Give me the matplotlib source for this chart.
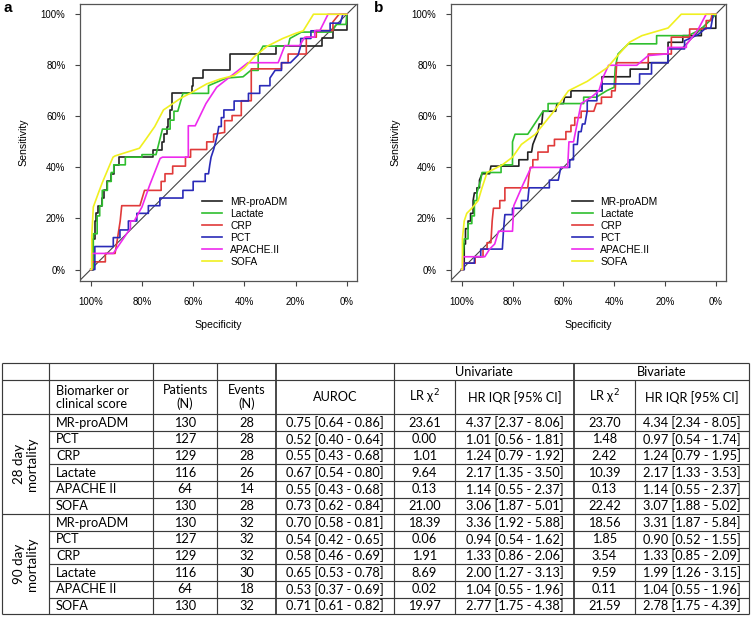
import numpy as np
import matplotlib
matplotlib.use("Agg")
import matplotlib.pyplot as plt

# ROC curves: (specificity, sensitivity) vertices
# panel a: 28 day mortality
a_mrproadm = [(1, 0), (0.99, 0), (0.99, 0.12), (0.985, 0.12), (0.985, 0.19), (0.978, 0.19), (0.978, 0.22),
              (0.97, 0.22), (0.97, 0.25), (0.955, 0.25), (0.955, 0.28), (0.948, 0.28), (0.948, 0.31),
              (0.935, 0.31), (0.935, 0.345), (0.92, 0.345), (0.92, 0.375), (0.91, 0.375), (0.91, 0.41),
              (0.89, 0.41), (0.89, 0.44), (0.755, 0.44), (0.755, 0.47), (0.72, 0.47), (0.72, 0.50),
              (0.712, 0.50), (0.712, 0.53), (0.703, 0.53), (0.703, 0.56), (0.697, 0.56), (0.697, 0.59),
              (0.69, 0.59), (0.69, 0.625), (0.684, 0.625), (0.684, 0.69), (0.605, 0.69), (0.605, 0.72),
              (0.599, 0.72), (0.599, 0.75), (0.5625, 0.75), (0.5625, 0.78), (0.457, 0.78), (0.457, 0.845),
              (0.275, 0.845), (0.275, 0.875), (0.098, 0.875), (0.098, 0.905), (0.052, 0.905), (0.052, 0.94),
              (0, 0.94), (0, 1.0)]
a_lactate = [(1, 0), (0.99, 0), (0.99, 0.14), (0.975, 0.14), (0.975, 0.21), (0.965, 0.21), (0.965, 0.25),
             (0.955, 0.25), (0.955, 0.31), (0.935, 0.31), (0.935, 0.345), (0.92, 0.345), (0.92, 0.38),
             (0.91, 0.38), (0.91, 0.41), (0.865, 0.41), (0.865, 0.44), (0.80, 0.44), (0.80, 0.45),
             (0.745, 0.45), (0.72, 0.55), (0.69, 0.55), (0.69, 0.585), (0.675, 0.585), (0.675, 0.62),
             (0.66, 0.62), (0.64, 0.69), (0.54, 0.69), (0.54, 0.72), (0.47, 0.75), (0.405, 0.755),
             (0.375, 0.78), (0.346, 0.78), (0.346, 0.84), (0.327, 0.875), (0.229, 0.875), (0.222, 0.905),
             (0.177, 0.93), (0.06, 0.93), (0.04, 0.96), (0.003, 0.96), (0, 1.0)]
a_crp = [(1, 0), (0.995, 0), (0.995, 0.03), (0.943, 0.03), (0.943, 0.063), (0.905, 0.063), (0.895, 0.125),
         (0.885, 0.19), (0.879, 0.25), (0.808, 0.25), (0.79, 0.31), (0.725, 0.31), (0.725, 0.345),
         (0.71, 0.345), (0.71, 0.375), (0.68, 0.375), (0.68, 0.405), (0.63, 0.405), (0.63, 0.44),
         (0.61, 0.44), (0.61, 0.47), (0.547, 0.47), (0.547, 0.50), (0.52, 0.50), (0.52, 0.53),
         (0.477, 0.537), (0.477, 0.583), (0.448, 0.583), (0.448, 0.603), (0.412, 0.603), (0.412, 0.661),
         (0.373, 0.661), (0.373, 0.786), (0.255, 0.786), (0.255, 0.81), (0.229, 0.81), (0.229, 0.844),
         (0.158, 0.844), (0.158, 0.91), (0.119, 0.91), (0.119, 0.936), (0.054, 0.936), (0.054, 0.97),
         (0.03, 1.0), (0, 1.0)]
a_pct = [(1, 0), (0.984, 0), (0.984, 0.09), (0.912, 0.09), (0.912, 0.125), (0.886, 0.125), (0.886, 0.155),
         (0.853, 0.155), (0.853, 0.19), (0.82, 0.19), (0.82, 0.22), (0.775, 0.22), (0.775, 0.25),
         (0.73, 0.25), (0.73, 0.28), (0.64, 0.28), (0.64, 0.31), (0.60, 0.31), (0.60, 0.345),
         (0.553, 0.345), (0.553, 0.375), (0.54, 0.375), (0.535, 0.41), (0.53, 0.44), (0.52, 0.47),
         (0.512, 0.50), (0.505, 0.53), (0.50, 0.56), (0.49, 0.56), (0.49, 0.595), (0.48, 0.595),
         (0.48, 0.625), (0.44, 0.625), (0.44, 0.66), (0.384, 0.66), (0.384, 0.69), (0.34, 0.69),
         (0.34, 0.72), (0.30, 0.72), (0.30, 0.75), (0.28, 0.78), (0.255, 0.78), (0.255, 0.81),
         (0.22, 0.81), (0.19, 0.84), (0.18, 0.875), (0.18, 0.905), (0.14, 0.905), (0.14, 0.935),
         (0.065, 0.935), (0.065, 0.965), (0.025, 0.965), (0.015, 1.0), (0, 1.0)]
a_apache = [(1, 0), (0.996, 0), (0.996, 0.063), (0.912, 0.063), (0.859, 0.141), (0.845, 0.16), (0.845, 0.19),
            (0.83, 0.19), (0.80, 0.245), (0.77, 0.33), (0.729, 0.435), (0.72, 0.44), (0.619, 0.44),
            (0.619, 0.563), (0.592, 0.563), (0.55, 0.65), (0.508, 0.714), (0.425, 0.779), (0.386, 0.81),
            (0.268, 0.81), (0.242, 0.877), (0.184, 0.877), (0.164, 0.91), (0.125, 0.91), (0.125, 0.936),
            (0.105, 0.936), (0.073, 1.0), (0, 1.0)]
a_sofa = [(1, 0), (0.996, 0), (0.996, 0.13), (0.99, 0.245), (0.97, 0.30), (0.955, 0.34), (0.913, 0.44),
          (0.905, 0.445), (0.81, 0.475), (0.787, 0.507), (0.75, 0.56), (0.716, 0.625), (0.65, 0.67),
          (0.605, 0.694), (0.547, 0.727), (0.495, 0.746), (0.44, 0.76), (0.40, 0.79), (0.36, 0.835),
          (0.31, 0.875), (0.25, 0.905), (0.2, 0.925), (0.17, 0.935), (0.13, 1.0), (0, 1.0)]

# panel b: 90 day mortality
b_mrproadm = [(1, 0), (0.99, 0), (0.99, 0.10), (0.985, 0.10), (0.985, 0.16), (0.975, 0.16), (0.975, 0.19),
              (0.965, 0.19), (0.965, 0.22), (0.955, 0.22), (0.955, 0.27), (0.95, 0.30), (0.94, 0.30),
              (0.94, 0.32), (0.93, 0.32), (0.93, 0.35), (0.92, 0.375), (0.89, 0.375), (0.885, 0.405),
              (0.775, 0.405), (0.775, 0.43), (0.74, 0.43), (0.74, 0.46), (0.725, 0.46), (0.72, 0.49),
              (0.71, 0.515), (0.70, 0.54), (0.695, 0.57), (0.685, 0.57), (0.68, 0.62), (0.63, 0.62),
              (0.625, 0.65), (0.60, 0.65), (0.595, 0.675), (0.57, 0.675), (0.57, 0.70), (0.448, 0.70),
              (0.448, 0.755), (0.337, 0.755), (0.337, 0.785), (0.266, 0.785), (0.266, 0.81), (0.188, 0.81),
              (0.188, 0.89), (0.13, 0.89), (0.13, 0.916), (0.057, 0.916), (0.057, 0.945), (0, 0.945), (0, 1.0)]
b_lactate = [(1, 0), (0.995, 0), (0.995, 0.05), (0.99, 0.12), (0.975, 0.12), (0.975, 0.18), (0.96, 0.18),
             (0.96, 0.21), (0.95, 0.21), (0.95, 0.27), (0.94, 0.27), (0.94, 0.30), (0.925, 0.35), (0.92, 0.38),
             (0.845, 0.38), (0.845, 0.41), (0.80, 0.41), (0.80, 0.50), (0.79, 0.53), (0.74, 0.53),
             (0.72, 0.56), (0.70, 0.59), (0.68, 0.62), (0.66, 0.62), (0.66, 0.65), (0.52, 0.65),
             (0.52, 0.675), (0.47, 0.675), (0.43, 0.70), (0.40, 0.714), (0.396, 0.79), (0.385, 0.844),
             (0.344, 0.884), (0.233, 0.884), (0.233, 0.916), (0.109, 0.916), (0.06, 0.94), (0.02, 0.978),
             (0, 1.0)]
b_crp = [(1, 0), (0.995, 0), (0.995, 0.025), (0.947, 0.025), (0.947, 0.05), (0.916, 0.05), (0.916, 0.08),
         (0.90, 0.08), (0.90, 0.105), (0.885, 0.105), (0.88, 0.19), (0.875, 0.24), (0.85, 0.24), (0.85, 0.27),
         (0.83, 0.27), (0.83, 0.32), (0.74, 0.32), (0.735, 0.37), (0.73, 0.40), (0.72, 0.40), (0.72, 0.43),
         (0.70, 0.43), (0.70, 0.46), (0.66, 0.46), (0.66, 0.485), (0.635, 0.485), (0.635, 0.51),
         (0.59, 0.51), (0.59, 0.54), (0.57, 0.54), (0.57, 0.565), (0.555, 0.565), (0.555, 0.595),
         (0.53, 0.595), (0.53, 0.62), (0.48, 0.62), (0.47, 0.65), (0.45, 0.65), (0.45, 0.675),
         (0.41, 0.675), (0.41, 0.70), (0.396, 0.70), (0.39, 0.81), (0.266, 0.81), (0.266, 0.844),
         (0.175, 0.844), (0.175, 0.91), (0.103, 0.91), (0.103, 0.942), (0.038, 0.942), (0.038, 0.975),
         (0.02, 0.975), (0.015, 1.0), (0, 1.0)]
b_pct = [(1, 0), (0.99, 0), (0.99, 0.025), (0.95, 0.025), (0.95, 0.05), (0.925, 0.05), (0.925, 0.08),
         (0.84, 0.08), (0.835, 0.16), (0.83, 0.215), (0.80, 0.215), (0.80, 0.24), (0.765, 0.24),
         (0.765, 0.27), (0.74, 0.27), (0.735, 0.32), (0.655, 0.32), (0.655, 0.35), (0.62, 0.35),
         (0.61, 0.40), (0.575, 0.40), (0.575, 0.43), (0.56, 0.43), (0.56, 0.49), (0.545, 0.49),
         (0.54, 0.54), (0.53, 0.54), (0.525, 0.57), (0.515, 0.57), (0.506, 0.622), (0.506, 0.661),
         (0.468, 0.661), (0.468, 0.70), (0.448, 0.70), (0.448, 0.727), (0.30, 0.727), (0.30, 0.766),
         (0.253, 0.766), (0.253, 0.81), (0.188, 0.81), (0.188, 0.864), (0.123, 0.864), (0.123, 0.896),
         (0.07, 0.92), (0.04, 0.945), (0.02, 0.945), (0.01, 1.0), (0, 1.0)]
b_apache = [(1, 0), (0.996, 0), (0.996, 0.05), (0.909, 0.05), (0.89, 0.08), (0.87, 0.10), (0.855, 0.15),
            (0.80, 0.15), (0.795, 0.25), (0.76, 0.33), (0.727, 0.40), (0.583, 0.40), (0.578, 0.50),
            (0.56, 0.50), (0.53, 0.65), (0.49, 0.675), (0.46, 0.70), (0.445, 0.75), (0.422, 0.80),
            (0.311, 0.80), (0.266, 0.838), (0.188, 0.845), (0.188, 0.87), (0.116, 0.87), (0.116, 0.88),
            (0.07, 0.94), (0.038, 1.0), (0, 1.0)]
b_sofa = [(1, 0), (0.997, 0), (0.997, 0.12), (0.99, 0.19), (0.98, 0.22), (0.96, 0.24), (0.935, 0.27),
          (0.92, 0.32), (0.90, 0.38), (0.84, 0.41), (0.80, 0.44), (0.765, 0.49), (0.71, 0.53), (0.645, 0.61),
          (0.58, 0.70), (0.506, 0.737), (0.428, 0.79), (0.38, 0.845), (0.34, 0.89), (0.291, 0.916),
          (0.188, 0.946), (0.136, 1.0), (0, 1.0)]

curve_names = ["MR-proADM", "Lactate", "CRP", "PCT", "APACHE.II", "SOFA"]
curve_colors = ["#222222", "#2fbf2f", "#e03a3a", "#2a2ab8", "#ee2aee", "#f0f020"]
ticks = [1.0, 0.8, 0.6, 0.4, 0.2, 0.0]
tick_labels = ["100%", "80%", "60%", "40%", "20%", "0%"]

# table contents
table_groups = ["28 day\nmortality", "90 day\nmortality"]
table_markers = ["MR-proADM", "PCT", "CRP", "Lactate", "APACHE II", "SOFA"] * 2
table_patients = [130, 127, 129, 116, 64, 130, 130, 127, 129, 116, 64, 130]
table_events = [28, 28, 28, 26, 14, 28, 32, 32, 32, 30, 18, 32]
table_auroc = ["0.75 [0.64 - 0.86]", "0.52 [0.40 - 0.64]", "0.55 [0.43 - 0.68]", "0.67 [0.54 - 0.80]",
               "0.55 [0.43 - 0.68]", "0.73 [0.62 - 0.84]", "0.70 [0.58 - 0.81]", "0.54 [0.42 - 0.65]",
               "0.58 [0.46 - 0.69]", "0.65 [0.53 - 0.78]", "0.53 [0.37 - 0.69]", "0.71 [0.61 - 0.82]"]
uni_lr = ["23.61", "0.00", "1.01", "9.64", "0.13", "21.00", "18.39", "0.06", "1.91", "8.69", "0.02", "19.97"]
uni_hr = ["4.37 [2.37 - 8.06]", "1.01 [0.56 - 1.81]", "1.24 [0.79 - 1.92]", "2.17 [1.35 - 3.50]",
          "1.14 [0.55 - 2.37]", "3.06 [1.87 - 5.01]", "3.36 [1.92 - 5.88]", "0.94 [0.54 - 1.62]",
          "1.33 [0.86 - 2.06]", "2.00 [1.27 - 3.13]", "1.04 [0.55 - 1.96]", "2.77 [1.75 - 4.38]"]
bi_lr = ["23.70", "1.48", "2.42", "10.39", "0.13", "22.42", "18.56", "1.85", "3.54", "9.59", "0.11", "21.59"]
bi_hr = ["4.34 [2.34 - 8.05]", "0.97 [0.54 - 1.74]", "1.24 [0.79 - 1.95]", "2.17 [1.33 - 3.53]",
         "1.14 [0.55 - 2.37]", "3.07 [1.88 - 5.02]", "3.31 [1.87 - 5.84]", "0.90 [0.52 - 1.55]",
         "1.33 [0.85 - 2.09]", "1.99 [1.26 - 3.15]", "1.04 [0.55 - 1.96]", "2.78 [1.75 - 4.39]"]

W, H = 754, 623
fig = plt.figure(figsize=(W / 100, H / 100), dpi=100)
plt.rcParams['font.family'] = ['Liberation Sans', 'DejaVu Sans']

# ---------- table (drawn in pixel coordinates) ----------
tf = ['Lato', 'DejaVu Sans']
tfs = 9.2
ax_t = fig.add_axes([0, 0, 1, 1])
ax_t.set_xlim(0, W)
ax_t.set_ylim(H, 0)
ax_t.axis('off')

y_top, y_h1, y_h2, y_bot = 363.3, 380.0, 414.3, 614.3
row_h = (y_bot - y_h2) / 12
col_x = [2, 49, 153, 217, 276, 394, 455, 574, 635, 749]
lc = "#3a3a3a"
lw = 0.85

for y in [y_top, y_h1, y_h2, y_h2 + 6 * row_h, y_bot]:
    ax_t.hlines(y, col_x[0], col_x[-1], color=lc, lw=lw)
for i in range(1, 12):
    if i != 6:
        ax_t.hlines(y_h2 + i * row_h, col_x[1], col_x[-1], color=lc, lw=lw)
for j, x in enumerate(col_x):
    y0 = y_h1 if j in (6, 8) else y_top
    ax_t.vlines(x, y0, y_bot, color=lc, lw=1.3 if j in (4, 7) else lw)

centers = [(col_x[k] + col_x[k + 1]) / 2 for k in range(len(col_x) - 1)]
yh1 = (y_top + y_h1) / 2
ax_t.text((col_x[5] + col_x[7]) / 2, yh1, "Univariate", ha='center', va='center', fontsize=tfs, family=tf)
ax_t.text((col_x[7] + col_x[9]) / 2, yh1, "Bivariate", ha='center', va='center', fontsize=tfs, family=tf)
yh2 = (y_h1 + y_h2) / 2
hdr = dict(va='center', fontsize=tfs, family=tf, linespacing=1.1)
ax_t.text(col_x[1] + 7, yh2, "Biomarker or\nclinical score", ha='left', **hdr)
ax_t.text(centers[2], yh2, "Patients\n(N)", ha='center', **hdr)
ax_t.text(centers[3], yh2, "Events\n(N)", ha='center', **hdr)
ax_t.text(centers[4], yh2, "AUROC", ha='center', **hdr)
ax_t.text(centers[5], yh2, "LR χ$^2$", ha='center', **hdr)
ax_t.text(centers[6], yh2, "HR IQR [95% CI]", ha='center', **hdr)
ax_t.text(centers[7], yh2, "LR χ$^2$", ha='center', **hdr)
ax_t.text(centers[8], yh2, "HR IQR [95% CI]", ha='center', **hdr)

for g, label in enumerate(table_groups):
    ax_t.text(centers[0], y_h2 + (g * 6 + 3) * row_h, label, ha='center', va='center', rotation=90,
              fontsize=tfs + 0.4, family=tf, linespacing=1.1)

for i in range(12):
    yc = y_h2 + (i + 0.5) * row_h
    kw = dict(va='center', fontsize=tfs, family=tf)
    ax_t.text(col_x[1] + 7, yc, table_markers[i], ha='left', **kw)
    ax_t.text(centers[2], yc, str(table_patients[i]), ha='center', **kw)
    ax_t.text(centers[3], yc, str(table_events[i]), ha='center', **kw)
    ax_t.text(centers[4], yc, table_auroc[i], ha='center', **kw)
    ax_t.text(centers[5], yc, uni_lr[i], ha='center', **kw)
    ax_t.text(centers[6], yc, uni_hr[i], ha='center', **kw)
    ax_t.text(centers[7], yc, bi_lr[i], ha='center', **kw)
    ax_t.text(centers[8], yc, bi_hr[i], ha='center', **kw)

# ---------- ROC panels ----------
panels = [
    ("a", 80, 277, [a_mrproadm, a_lactate, a_crp, a_pct, a_apache, a_sofa]),
    ("b", 451, 275, [b_mrproadm, b_lactate, b_crp, b_pct, b_apache, b_sofa]),
]
ax_top, ax_bottom = 4, 281
for letter, left, width, curves in panels:
    ax = fig.add_axes([left / W, 1 - ax_bottom / H, width / W, (ax_bottom - ax_top) / H])
    ax.axline((1, 0), (0, 1), color="#444444", lw=0.8, zorder=1)
    handles = []
    for pts, name, col in zip(curves, curve_names, curve_colors):
        arr = np.array(pts)
        h, = ax.plot(arr[:, 0], arr[:, 1], color=col, lw=1.2, label=name, zorder=2)
        handles.append(h)
    ax.set_xlim(1.042, -0.04)
    ax.set_ylim(-0.045, 1.04)
    ax.set_xticks(ticks)
    ax.set_xticklabels(tick_labels)
    ax.set_yticks(ticks)
    ax.set_yticklabels(tick_labels)
    ax.tick_params(axis='both', labelsize=6.9, length=3.5, width=0.8, color="#444444")
    ax.tick_params(axis='x', pad=8)
    ax.tick_params(axis='y', pad=7)
    for s in ax.spines.values():
        s.set_color("#555555")
        s.set_linewidth(0.9)
    ax.set_xlabel("Specificity", fontsize=7.6)
    ax.xaxis.set_label_coords(0.5, -0.142)
    ax.set_ylabel("Sensitivity", fontsize=7.6)
    ax.yaxis.set_label_coords(-0.185, 0.5)
    ax.legend(handles=handles, loc='upper left', bbox_to_anchor=(0.44, 0.305), frameon=False,
              fontsize=7.4, handlelength=2.0, handletextpad=0.75, labelspacing=0.2,
              borderpad=0, borderaxespad=0)
    fig.text((left - 77) / W, 1 - 8 / H, letter, fontsize=11, fontweight='bold', ha='left', va='center')

fig.savefig("out.png", dpi=100)
